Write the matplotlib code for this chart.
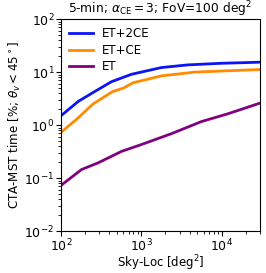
import matplotlib
matplotlib.use("Agg")
import matplotlib.pyplot as plt

x_2ce = [100, 164, 263, 426, 755, 1780, 3800, 10000, 30000]
y_2ce = [1.5, 2.8, 4.3, 6.6, 9.1, 12.2, 13.7, 14.7, 15.4]

x_ce = [100, 164, 250, 440, 600, 790, 1780, 4600, 10000, 30000]
y_ce = [0.73, 1.37, 2.5, 4.3, 5.0, 6.3, 8.5, 10.0, 10.5, 11.2]

x_et = [100, 181, 291, 567, 1000, 2370, 5620, 12000, 30000]
y_et = [0.073, 0.146, 0.195, 0.32, 0.43, 0.69, 1.17, 1.64, 2.6]

fig = plt.figure(figsize=(2.66, 2.73), dpi=100)
ax = fig.add_axes([0.229, 0.153, 0.748, 0.777])
ax.plot(x_2ce, y_2ce, color="#0a14f5", lw=2, label="ET+2CE")
ax.plot(x_ce, y_ce, color="darkorange", lw=2, label="ET+CE")
ax.plot(x_et, y_et, color="purple", lw=2, label="ET")
ax.set_xscale("log")
ax.set_yscale("log")
ax.set_xlim(100, 30000)
ax.set_ylim(1e-2, 1e2)
ax.set_title(r"5-min; $\alpha_{\rm CE}=3$; FoV=100 deg$^2$", fontsize=8.8, pad=3)
ax.set_xlabel(r"Sky-Loc [deg$^2$]", fontsize=8.5, va="center")
ax.set_ylabel(r"CTA-MST time [%; $\theta_v < 45^\circ$]", fontsize=8.6, va="center")
ax.xaxis.set_label_coords(0.5, -0.150)
ax.yaxis.set_label_coords(-0.231, 0.5)
ax.tick_params(labelsize=9.0, pad=1.2)
ax.legend(loc="upper left", frameon=False, fontsize=8.5, handlelength=2.0,
          labelspacing=0.3, borderaxespad=0.3)
fig.savefig("out.png", dpi=100)
